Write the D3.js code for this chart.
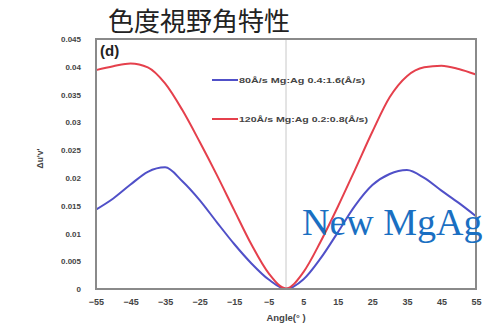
<!DOCTYPE html>
<html><head><meta charset="utf-8">
<script src="https://cdn.jsdelivr.net/npm/d3@7"></script>
<style>body{margin:0;background:#fff}svg{display:block}</style>
</head><body><svg id="c" width="494" height="335"></svg>
<script>
const angles = [-55,-50,-45,-40,-35,-30,-25,-20,-15,-10,-5,0,5,10,15,20,25,30,35,40,45,50,55];
const series80 = [0.0143,0.0163,0.0188,0.0211,0.0219,0.0194,0.0160,0.0120,0.0081,0.0046,0.0017,0.0000,0.0017,0.0055,0.0102,0.0150,0.0187,0.0207,0.0214,0.0200,0.0177,0.0155,0.0131];
const series120 = [0.0394,0.0401,0.0406,0.0399,0.0370,0.0322,0.0265,0.0205,0.0142,0.0080,0.0028,0.0001,0.0030,0.0085,0.0148,0.0215,0.0283,0.0345,0.0383,0.0399,0.0402,0.0396,0.0386];
const seriesNames = ["80Å/s Mg:Ag 0.4:1.6(Å/s)","120Å/s Mg:Ag 0.2:0.8(Å/s)"];
const xTicks = [-55,-45,-35,-25,-15,-5,5,15,25,35,45,55];
const yTicks = [0,0.005,0.01,0.015,0.02,0.025,0.03,0.035,0.04,0.045];
const title = "色度視野角特性";
const panelLabel = "(d)";
const overlayText = "New MgAg";
const xTitle = "Angle(° )";
const yTitle = "Δu'v'";

const svg = d3.select("#c");
const L=96,R=476,T=39,B=289;
const x = d3.scaleLinear().domain([-55,55]).range([L,R]);
const y = d3.scaleLinear().domain([0,0.045]).range([B,T]);
const lab = "'Liberation Sans','Open Sans',sans-serif";

svg.append("text").attr("x",108).attr("y",31).attr("font-family","'Noto Sans CJK JP',sans-serif")
  .attr("font-size",26).attr("fill","#222").text(title);

// center line
svg.append("line").attr("x1",x(0)).attr("x2",x(0)).attr("y1",T).attr("y2",B)
  .attr("stroke","#c8c8c8").attr("stroke-width",1);

// axes (labels only)
const xa = svg.append("g").attr("transform",`translate(0,${B+7})`)
  .call(d3.axisBottom(x).tickValues(xTicks).tickSize(0).tickFormat(d3.format("d")));
xa.select(".domain").remove();
xa.selectAll("text").attr("font-family",lab).attr("font-size",9).attr("fill","#444").attr("font-weight","bold");
const ya = svg.append("g").attr("transform",`translate(${L-12},0)`)
  .call(d3.axisLeft(y).tickValues(yTicks).tickSize(0).tickFormat(d=>d===0?"0":String(+d.toFixed(3))));
ya.select(".domain").remove();
ya.selectAll("text").attr("font-family",lab).attr("font-size",8).attr("fill","#444").attr("font-weight","bold");

svg.append("text").attr("x",x(0)).attr("y",321).attr("text-anchor","middle")
  .attr("font-family",lab).attr("font-size",9.5).attr("font-weight","bold").attr("fill","#444").text(xTitle);
svg.append("text").attr("transform",`translate(43,${y(0.0235)}) rotate(-90)`).attr("text-anchor","middle")
  .attr("font-family",lab).attr("font-size",8.5).attr("font-weight","bold").attr("fill","#444").text(yTitle);

const line = d3.line().x((d,i)=>x(angles[i])).y(d=>y(d)).curve(d3.curveMonotoneX);
svg.append("path").datum(series80).attr("d",line).attr("fill","none").attr("stroke","#5050c8").attr("stroke-width",2);
svg.append("path").datum(series120).attr("d",line).attr("fill","none").attr("stroke","#e5404c").attr("stroke-width",2);

// frame
svg.append("rect").attr("x",L).attr("y",T).attr("width",R-L).attr("height",B-T)
  .attr("fill","none").attr("stroke","#8a8a8a").attr("stroke-width",2);

svg.append("text").attr("x",100).attr("y",56).attr("font-family",lab).attr("font-size",15)
  .attr("font-weight","bold").attr("fill","#222").text(panelLabel);

// legend
const lg=[{c:"#5050c8",y:80,w:126},{c:"#e5404c",y:119,w:129}];
lg.forEach((g,i)=>{
  svg.append("line").attr("x1",212).attr("x2",238).attr("y1",g.y).attr("y2",g.y).attr("stroke",g.c).attr("stroke-width",2);
  svg.append("text").attr("x",239).attr("y",g.y+2.8).attr("font-family",lab).attr("font-size",7.5)
    .attr("font-weight","bold").attr("fill","#444").attr("textLength",g.w).attr("lengthAdjust","spacingAndGlyphs").text(seriesNames[i]);
});

svg.append("text").attr("x",302).attr("y",235).attr("font-family","'Liberation Serif','DejaVu Serif',serif")
  .attr("font-size",38).attr("fill","#1a6fc2").text(overlayText);
</script></body></html>
